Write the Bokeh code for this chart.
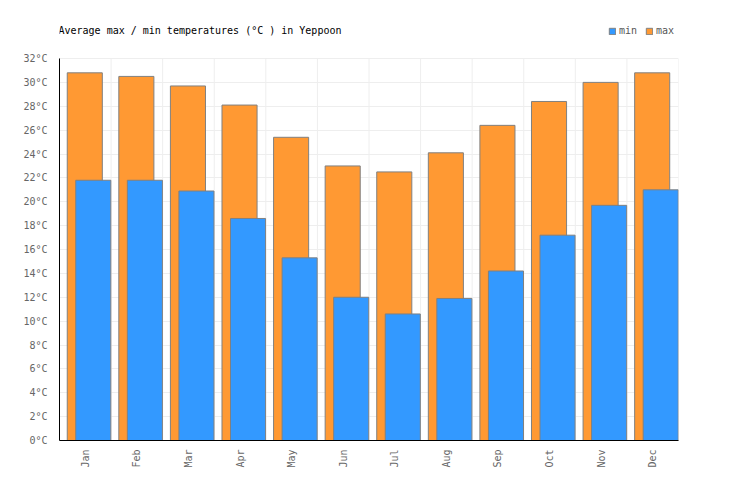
import math
from bokeh.plotting import figure
from bokeh.models import ColumnDataSource, FixedTicker, Legend, LegendItem, Label, PrintfTickFormatter
from bokeh.embed import file_html
from bokeh.resources import INLINE

months = ["Jan", "Feb", "Mar", "Apr", "May", "Jun", "Jul", "Aug", "Sep", "Oct", "Nov", "Dec"]
t_max = [30.8, 30.5, 29.7, 28.1, 25.4, 23.0, 22.5, 24.1, 26.4, 28.4, 30.0, 30.8]
t_min = [21.8, 21.8, 20.9, 18.6, 15.3, 12.0, 10.6, 11.9, 14.2, 17.2, 19.7, 21.0]
y_ticks = list(range(0, 33, 2))
title_text = "Average max / min temperatures (°C ) in Yeppoon"

idx = list(range(len(months)))
y_top = y_ticks[-1]
src = ColumnDataSource(dict(
    xmax=[i + 0.49 for i in idx],
    xmin=[i + 0.655 for i in idx],
    tmax=t_max,
    tmin=t_min,
))

FONT = "DejaVu Sans Mono"
px_per_unit = 382 / y_top
head = 40 / px_per_unit
p = figure(width=728, height=492, output_backend="svg", toolbar_location=None,
           x_range=(0, len(months)), y_range=(0, y_top + head),
           min_border_left=59, min_border_right=50, min_border_top=18, min_border_bottom=52)
p.outline_line_color = None

bounds = list(range(len(months) + 1))
p.segment(x0=bounds, y0=[0] * len(bounds), x1=bounds, y1=[y_top] * len(bounds),
          line_color="#EEEEEE", line_width=1)

r_max = p.vbar(x="xmax", top="tmax", width=0.68, bottom=0, source=src,
               fill_color="#FF9933", line_color="#808080", line_width=1)
r_min = p.vbar(x="xmin", top="tmin", width=0.68, bottom=0, source=src,
               fill_color="#3399FF", line_color="#808080", line_width=1)

p.xaxis.ticker = FixedTicker(ticks=[i + 0.5 for i in idx])
p.xaxis.major_label_overrides = {i + 0.5: m for i, m in zip(idx, months)}
p.xaxis.major_label_orientation = math.pi / 2
p.yaxis.ticker = FixedTicker(ticks=y_ticks)
p.yaxis.formatter = PrintfTickFormatter(format="%d°C")
p.yaxis.bounds = (0, y_top)
for ax in (p.xaxis, p.yaxis):
    ax.axis_line_color = "black"
    ax.axis_line_width = 1
    ax.major_tick_line_color = None
    ax.minor_tick_line_color = None
    ax.major_label_text_font = FONT
    ax.major_label_text_font_size = "10px"
    ax.major_label_text_color = "#666666"
p.yaxis.major_label_standoff = 6
p.xaxis.major_label_standoff = 3

p.xgrid.grid_line_color = None
p.ygrid.grid_line_color = "#EEEEEE"

title = Label(x=0, y=410 / px_per_unit, x_offset=-1, text=title_text,
              text_font=FONT, text_font_size="10px", text_color="#000000",
              text_baseline="middle", text_align="left")
p.add_layout(title)

legend = Legend(items=[LegendItem(label="min", renderers=[r_min]),
                       LegendItem(label="max", renderers=[r_max])],
                orientation="horizontal", location=(549, 404),
                glyph_width=8, glyph_height=8, label_text_font=FONT, label_text_font_size="10px",
                label_text_color="#555555", label_standoff=3, spacing=6, padding=0, margin=0,
                label_height=10, border_line_color=None, background_fill_alpha=0)
p.add_layout(legend)

open("out.html", "w").write(file_html(p, INLINE))
